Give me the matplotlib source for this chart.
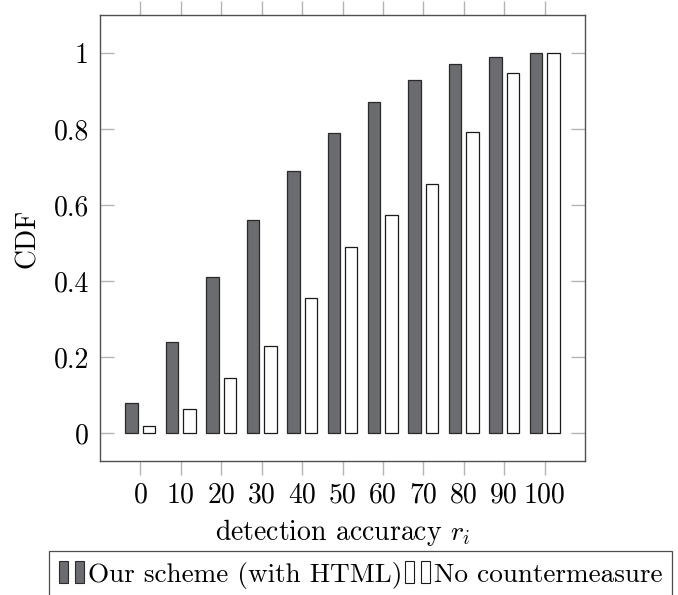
import matplotlib
matplotlib.use("Agg")
import matplotlib.pyplot as plt
from matplotlib.patches import Patch
from matplotlib.legend_handler import HandlerTuple
import numpy as np

plt.rcParams['font.family'] = 'serif'
plt.rcParams['font.serif'] = ['cmr10']
plt.rcParams['mathtext.fontset'] = 'cm'
plt.rcParams['axes.unicode_minus'] = False
plt.rcParams['axes.formatter.use_mathtext'] = True

categories = [0, 10, 20, 30, 40, 50, 60, 70, 80, 90, 100]
ours = [0.08, 0.24, 0.41, 0.56, 0.69, 0.79, 0.87, 0.93, 0.97, 0.99, 1.0]
none = [0.02, 0.063, 0.146, 0.23, 0.355, 0.489, 0.574, 0.656, 0.791, 0.947, 1.0]
yticks = [0, 0.2, 0.4, 0.6, 0.8, 1.0]
ytick_labels = ['0', '0.2', '0.4', '0.6', '0.8', '1']
series_names = ['Our scheme (with HTML)', 'No countermeasure']

FS = 20
LFS = 19.6
dark = '#6b6c70'
edge_dark = '#2a2a2a'
spine_c = '#505050'
tick_c = '#b4b4b4'

fig = plt.figure(figsize=(6.78, 5.95), dpi=100)
ax = fig.add_axes([100/678, 1-461/595, 485/678, 446/595])

x = np.array(categories, dtype=float)
w = 3.1
off = 2.15
ax.bar(x - off, ours, width=w, color=dark, edgecolor=edge_dark, linewidth=0.9, zorder=3)
ax.bar(x + off, none, width=w, color='white', edgecolor='#1a1a1a', linewidth=0.9, zorder=3)

ax.set_xlim(-10, 110)
ax.set_ylim(-0.073, 1.1)
ax.set_xticks(categories)
ax.set_xticklabels([str(c) for c in categories], fontsize=FS)
ax.set_yticks(yticks)
ax.set_yticklabels(ytick_labels, fontsize=FS)

ax.tick_params(axis='x', direction='out', length=10, width=1, color=tick_c,
               top=True, bottom=True, pad=5)
ax.tick_params(axis='y', direction='in', length=10, width=1, color=tick_c,
               left=True, right=True, pad=8)
for s in ax.spines.values():
    s.set_color(spine_c)
    s.set_linewidth(1.0)

ax.set_xlabel('detection accuracy $r_i$', fontsize=FS, labelpad=6.5)
ax.set_ylabel('CDF', fontsize=FS, labelpad=9)

h1 = (Patch(facecolor=dark, edgecolor=edge_dark, linewidth=0.8),
      Patch(facecolor=dark, edgecolor=edge_dark, linewidth=0.8))
h2 = (Patch(facecolor='white', edgecolor='#1a1a1a', linewidth=0.8),
      Patch(facecolor='white', edgecolor='#1a1a1a', linewidth=0.8))
leg = fig.legend([h1, h2], series_names,
                 handler_map={tuple: HandlerTuple(ndivide=None, pad=0.26)},
                 loc='upper left', bbox_to_anchor=(49/678, 1-551/595),
                 ncol=2, fontsize=LFS, frameon=True, fancybox=False,
                 edgecolor='#222222', borderaxespad=0, borderpad=0.38,
                 handlelength=0.9, handleheight=0.85, handletextpad=0.15,
                 columnspacing=0.1)
leg.get_frame().set_linewidth(0.9)

fig.savefig('out.png', dpi=100)
